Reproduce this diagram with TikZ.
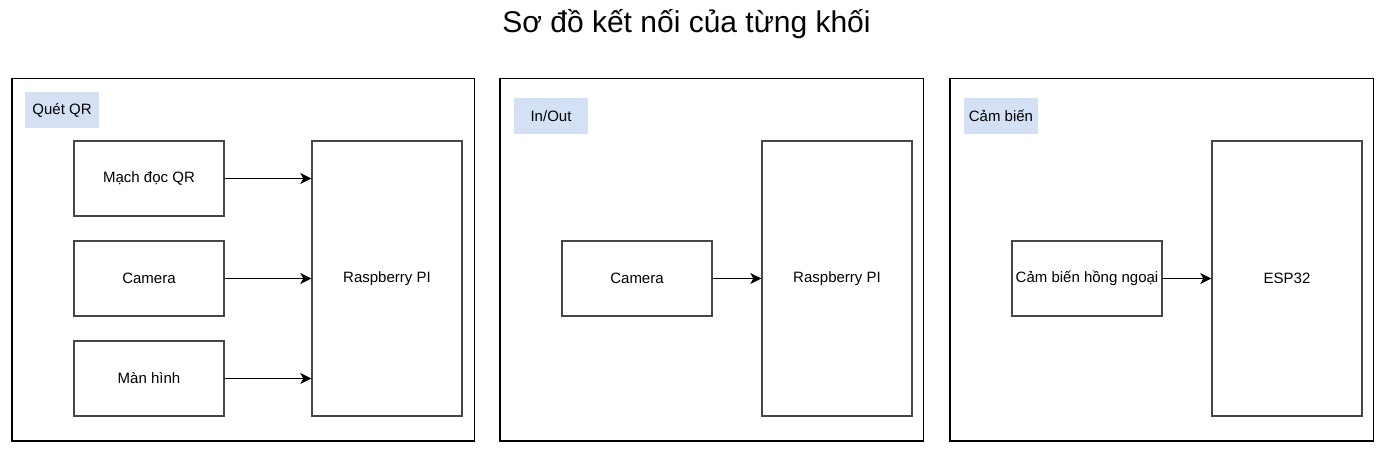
\documentclass[tikz,border=0pt]{standalone}
\usepackage{fontspec}
\setmainfont{Liberation Sans}
\usepackage{xcolor}
\usetikzlibrary{arrows.meta}
\definecolor{tagblue}{RGB}{212,225,245}
\definecolor{boxgray}{RGB}{70,70,70}

\tikzset{
  panel/.style={draw=black, line width=1.4pt, minimum height=362.5pt, inner sep=0pt},
  tag/.style={fill=tagblue, minimum width=74pt, minimum height=36pt, inner sep=0pt, font=\fontsize{15}{18}\selectfont},
  block/.style={draw=boxgray, line width=1.4pt, minimum width=150pt, minimum height=75pt, inner sep=0pt, font=\fontsize{15}{18}\selectfont},
  tallblock/.style={block, minimum height=275pt},
  link/.style={-{Stealth[length=11pt, width=11pt, inset=3pt]}, line width=1.4pt}
}

\begin{document}
\begin{tikzpicture}[x=1pt, y=-1pt]
  \useasboundingbox (0,0) rectangle (1381,457);
  \node [anchor=base, font=\fontsize{30}{36}\selectfont] (title) at (686.5,33) {Sơ đồ kết nối của từng khối};

  \node [panel, minimum width=462.5pt] (frameA) at (243.25,259.75) {};
  \node [panel, minimum width=423.5pt] (frameB) at (711.75,259.75) {};
  \node [panel, minimum width=423.5pt] (frameC) at (1161.75,259.75) {};

  \node [tag] (tagA) at (62,110) {Quét QR};
  \node [tag] (tagB) at (551,116) {In/Out};
  \node [tag] (tagC) at (1001,116) {Cảm biến};

  \node [block] (qr) at (149,178.5) {Mạch đọc QR};
  \node [block] (camA) at (149,278.5) {Camera};
  \node [block] (screen) at (149,378.5) {Màn hình};
  \node [tallblock] (rpiA) at (387,278.5) {Raspberry PI};

  \node [block] (camB) at (637,278.5) {Camera};
  \node [tallblock] (rpiB) at (837,278.5) {Raspberry PI};

  \node [block] (irsensor) at (1087,278.5) {Cảm biến hồng ngoại};
  \node [tallblock] (esp) at (1287,278.5) {ESP32};

  \draw [link] (qr.east) -- (qr.east -| rpiA.west);
  \draw [link] (camA) -- (rpiA);
  \draw [link] (screen.east) -- (screen.east -| rpiA.west);
  \draw [link] (camB) -- (rpiB);
  \draw [link] (irsensor) -- (esp);
\end{tikzpicture}
\end{document}
